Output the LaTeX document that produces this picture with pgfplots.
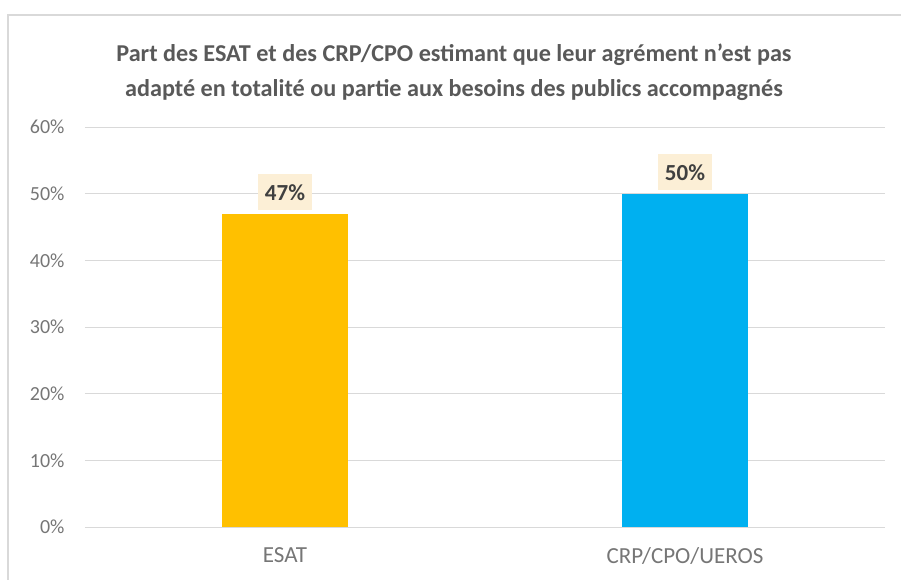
\documentclass[border=0pt]{standalone}
\usepackage{fontspec}
\setmainfont{Carlito}
\usepackage{pgfplots}
\pgfplotsset{compat=1.18}

\definecolor{esat}{HTML}{FFC000}
\definecolor{crp}{HTML}{00B0F0}
\definecolor{gridc}{HTML}{D9D9D9}
\definecolor{txt}{HTML}{595959}
\definecolor{ticktxt}{HTML}{767676}
\definecolor{lbltxt}{HTML}{404040}
\definecolor{lblbg}{HTML}{FCEFD6}

\begin{document}
\begin{tikzpicture}[x=1pt,y=1pt]
% picture extent (1pt = 1px of the reference)
\useasboundingbox (-85,-52) rectangle (816,527);
\draw[gridc, line width=1.5pt] (-77,-60) -- (-77,512) -- (830,512);
\node[text=txt, font=\fontsize{24.2}{35}\selectfont\bfseries, align=center]
  at (369,455) {Part des ESAT et des CRP/CPO estimant que leur agrément n'est pas\\adapté en totalité ou partie aux besoins des publics accompagnés};
\begin{axis}[
    at={(0,0)}, anchor=south west,
    scale only axis,
    width=800pt, height=400pt,
    ybar, bar width=0.315,
    xmin=-0.5, xmax=1.5,
    ymin=0, ymax=60,
    xtick={0,1},
    xticklabels={ESAT,CRP/CPO/UEROS},
    ytick={0,10,...,60},
    yticklabel={\pgfmathprintnumber{\tick}\%},
    /pgf/number format/assume math mode=true,
    ymajorgrids,
    grid style={gridc, line width=1pt},
    axis line style={draw=none},
    major tick length=0pt,
    tick label style={text=ticktxt},
    yticklabel style={font=\fontsize{20}{20}\selectfont, xshift=-17pt},
    xticklabel style={font=\fontsize{23}{23}\selectfont, yshift=-17pt},
    nodes near coords={\pgfmathprintnumber{\pgfplotspointmeta}\%},
    point meta=y,
    every node near coord/.append style={fill=lblbg, text=lbltxt,
        font=\fontsize{23}{23}\selectfont\bfseries,
        inner xsep=7pt, inner ysep=10pt, yshift=3pt},
]
\addplot[fill=esat, draw=none, bar shift=0] coordinates {(0,47)};
\addplot[fill=crp, draw=none, bar shift=0] coordinates {(1,50)};
\end{axis}
\end{tikzpicture}
\end{document}
